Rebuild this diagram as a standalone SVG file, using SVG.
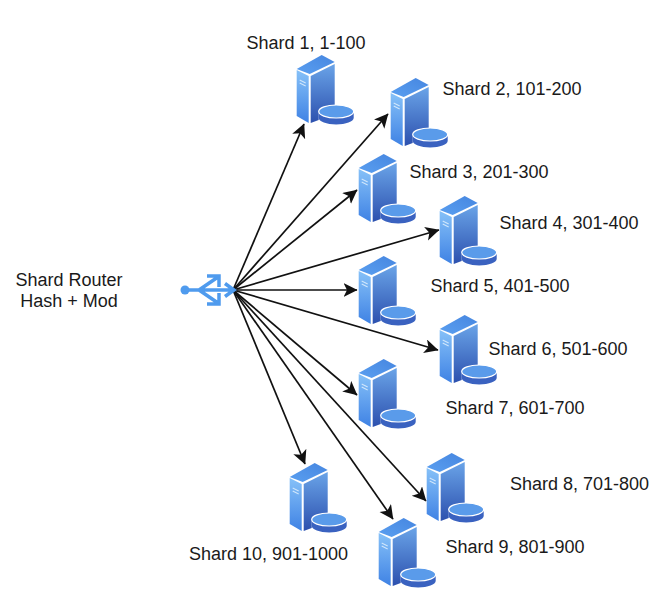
<svg xmlns="http://www.w3.org/2000/svg" width="659" height="609" viewBox="0 0 659 609">
<style>
text{font-family:"Liberation Sans",Arial,sans-serif;font-size:18px;fill:#1a1a1a}
.c{stroke:#111;stroke-width:1.7;fill:none;marker-end:url(#a)}
.u{stroke:#4f9bee;fill:none;stroke-width:3.5}
</style>
<defs>
<marker id="a" markerWidth="16" markerHeight="16" refX="13.500" refY="7" orient="auto" markerUnits="userSpaceOnUse"><path d="M0 0L14 7L0 14L3.500 7Z" fill="#111"/></marker>
<linearGradient id="g1" x1="0" y1="0" x2="0" y2="1"><stop offset="0" stop-color="#86c1f8"/><stop offset="1" stop-color="#3f82e4"/></linearGradient>
<linearGradient id="g2" x1="0" y1="0" x2="0" y2="1"><stop offset="0" stop-color="#6aa4e8"/><stop offset="1" stop-color="#2c50ae"/></linearGradient>
<linearGradient id="g3" x1="0" y1="1" x2="1" y2="0"><stop offset="0" stop-color="#5a9ff0"/><stop offset="1" stop-color="#4686e0"/></linearGradient>
<symbol id="s" width="60" height="72" viewBox="0 0 60 72" overflow="visible">
<g transform="translate(0.700 0)">
<path d="M0 14L25 0L38 7L13 19Z" fill="url(#g3)"/>
<path d="M0 15L12 21V68L0 61Z" fill="url(#g1)"/>
<path d="M14 21L38 9V50L22 58V65L14 68Z" fill="url(#g2)"/>
<path d="M3 25L9 28M3 28L9 31" stroke="#cfe6fb" stroke-width="1.200"/>
<path d="M22 56.500V63C22 66.500 30 69.500 39.500 69.500S57 66.500 57 63V56.500Z" fill="#3a62c0"/>
<ellipse cx="39.500" cy="56.500" rx="17.500" ry="6.500" fill="#5a9bea" stroke="#fff" stroke-width="1.200"/>
</g>
</symbol>
</defs>
<g id="connectors">
<path class="c" d="M233 290L304 124"/>
<path class="c" d="M233 290L388 114"/>
<path class="c" d="M233 290L357 190"/>
<path class="c" d="M233 290L439 230"/>
<path class="c" d="M233 290L357 290"/>
<path class="c" d="M233 290L438 350"/>
<path class="c" d="M233 290L357 395"/>
<path class="c" d="M233 290L426 501"/>
<path class="c" d="M233 290L393 519"/>
<path class="c" d="M233 290L305 464"/>
</g>
<g id="router">
<circle cx="185" cy="290" r="4.500" fill="#4f9bee"/>
<path class="u" d="M185 290H233M225 283.500L234 290L225 296.500M199 290L218 277M207 276H219V287M199 290L218 303M207 304H219V293"/>
<text x="69" y="286" text-anchor="middle">Shard Router</text>
<text x="69" y="307" text-anchor="middle">Hash + Mod</text>
</g>
<g id="shard1"><use href="#s" x="296" y="55"/><text x="246.500" y="49">Shard 1, 1-100</text></g>
<g id="shard2"><use href="#s" x="390" y="78"/><text x="442.500" y="95">Shard 2, 101-200</text></g>
<g id="shard3"><use href="#s" x="358" y="154"/><text x="409.500" y="178">Shard 3, 201-300</text></g>
<g id="shard4"><use href="#s" x="439" y="196"/><text x="499.500" y="229">Shard 4, 301-400</text></g>
<g id="shard5"><use href="#s" x="358" y="256"/><text x="430.500" y="292">Shard 5, 401-500</text></g>
<g id="shard6"><use href="#s" x="439" y="315"/><text x="488.500" y="355">Shard 6, 501-600</text></g>
<g id="shard7"><use href="#s" x="358" y="359"/><text x="445.500" y="414">Shard 7, 601-700</text></g>
<g id="shard8"><use href="#s" x="426" y="453"/><text x="510" y="490">Shard 8, 701-800</text></g>
<g id="shard9"><use href="#s" x="378" y="518"/><text x="445.500" y="553">Shard 9, 801-900</text></g>
<g id="shard10"><use href="#s" x="289" y="463"/><text x="189" y="560">Shard 10, 901-1000</text></g>
</svg>
